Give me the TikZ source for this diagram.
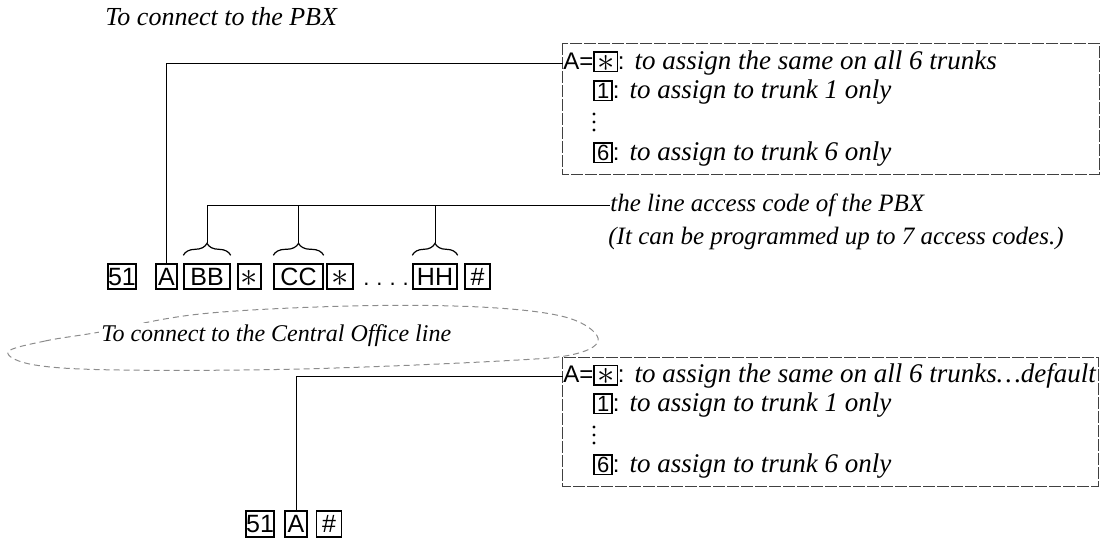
\documentclass[tikz,border=0pt]{standalone}
\usepackage{fontspec}
\setmainfont{Liberation Serif}
\setsansfont{Liberation Sans}
\usetikzlibrary{positioning,decorations.pathreplacing}

% small key caps inside the text lines
\newcommand{\keycap}[1]{{\setlength{\fboxsep}{0.6pt}\setlength{\fboxrule}{0.7pt}%
  \fbox{\upshape\sffamily\fontsize{11}{11}\selectfont\rule[-0.2pt]{0pt}{7.9pt}\kern0.5pt#1\kern0.5pt}}}
\newcommand{\sixstar}{\smash{\raisebox{-0.9pt}{\fontsize{19}{19}\selectfont$\ast$}}}
\newcommand{\lead}[1]{{\upshape\sffamily\fontsize{12}{12}\selectfont #1}}

\begin{document}
\begin{tikzpicture}[
  x=0.5pt,y=-0.5pt,
  key/.style={draw,line width=0.7pt,inner sep=0pt,minimum height=12.5pt,
    text height=8.5pt,text depth=0pt,font=\sffamily\fontsize{12.5}{12.5}\selectfont},
  note/.style={anchor=west,inner sep=0pt,font=\itshape\fontsize{13.5}{16}\selectfont},
  lead/.style={line width=0.5pt},
  frame/.style={line width=0.5pt,black!75,dash pattern=on 6pt off 1pt},
  ring/.style={line width=0.5pt,black!45,dash pattern=on 3pt off 2pt},
  grp/.style={decorate,decoration={brace,amplitude=6pt},line width=0.6pt}
]
  \useasboundingbox (0,0) rectangle (1101,542);

  % PBX part
  \node[note,font=\itshape\fontsize{13}{15}\selectfont] (pbx) at (105,17) {To connect to the PBX};

  \draw[frame] (562,43) rectangle (1099,174);
  \node[note] (pa) at (563,63)
    {\lead{A=}\keycap{\sixstar}\lead{:}\hspace{5pt}to assign the same on all 6 trunks};
  \node[note] (pb) at (563,92)
    {\lead{\phantom{A=}}\keycap{1}\lead{:}\hspace{5pt}to assign to trunk 1 only};
  \foreach \d in {114,122,130} \fill (594,\d) circle (0.8pt);
  \node[note] (pd) at (563,154)
    {\lead{\phantom{A=}}\keycap{6}\lead{:}\hspace{5pt}to assign to trunk 6 only};

  \node[key,minimum width=12pt]   (k51) at (122,276.5) {51};
  \node[key,minimum width=10.5pt] (ka)  at (166.5,276.5) {A};
  \node[key,minimum width=23pt]   (kb)  at (207,276.5)   {BB};
  \node[key,minimum width=11.5pt] (ks1) at (249.5,276.5) {\sixstar};
  \node[key,minimum width=24.5pt] (kc)  at (298.5,276.5) {CC};
  \node[key,minimum width=13pt]   (ks2) at (340,276.5)   {\sixstar};
  \node[inner sep=0pt,font=\sffamily\fontsize{11}{11}\selectfont] (kdots) at (386,284)
    {.\hspace{3.5pt}.\hspace{3.5pt}.\hspace{3.5pt}.};
  \node[key,minimum width=22pt]   (kh)  at (435,276.5)   {HH};
  \node[key,minimum width=12.5pt] (kend) at (477.5,276.5) {\#};

  \draw[lead] (ka.north) |- (pa.west);

  \draw[grp] ([yshift=4pt]kb.north west) -- ([yshift=4pt]kb.north east);
  \draw[grp] ([yshift=4pt]kc.north west) -- ([yshift=4pt]kc.north east);
  \draw[grp] ([yshift=4pt]kh.north west) -- ([yshift=4pt]kh.north east);
  \coordinate (tb) at ([yshift=10pt]kb.north);
  \coordinate (tc) at ([yshift=10pt]kc.north);
  \coordinate (th) at ([yshift=10pt]kh.north);

  \node[note,font=\itshape\fontsize{12.5}{15}\selectfont] (code) at (610,205)
    {the line access code of the PBX};
  \node[note,font=\itshape\fontsize{12.5}{15}\selectfont] (codes) at (608,238)
    {(It can be programmed up to 7 access codes.)};
  \draw[lead] (tb) |- (code.west);
  \draw[lead] (tc) -- (tc |- code.west);
  \draw[lead] (th) -- (th |- code.west);

  % Central Office part
  \draw[ring] plot[smooth cycle,tension=0.6] coordinates {
    (8,352) (45,341) (100,332) (200,314) (350,306) (480,307) (565,317)
    (598,338) (575,354) (500,361) (300,369) (120,370) (35,365)};
  \node[note,font=\itshape\fontsize{12}{14}\selectfont,fill=white,inner sep=1pt] (co) at (99,336)
    {To connect to the Central Office line};

  \draw[frame] (562,357) rectangle (1098,486);
  \node[note] (qa) at (563,376)
    {\lead{A=}\keycap{\sixstar}\lead{:}\hspace{5pt}to assign the same on all 6 trunks\ldots{}default};
  \node[note] (qb) at (563,405)
    {\lead{\phantom{A=}}\keycap{1}\lead{:}\hspace{5pt}to assign to trunk 1 only};
  \foreach \d in {427,435,443} \fill (594,\d) circle (0.8pt);
  \node[note] (qd) at (563,466)
    {\lead{\phantom{A=}}\keycap{6}\lead{:}\hspace{5pt}to assign to trunk 6 only};

  \node[key,minimum width=14pt,minimum height=13pt]   (l51) at (260,524) {51};
  \node[key,minimum width=11pt,minimum height=13pt]   (la)  at (296,524) {A};
  \node[key,minimum width=12.5pt,minimum height=13pt] (lend) at (329,524) {\#};

  \draw[lead] (la.north) |- (qa.west);
\end{tikzpicture}
\end{document}
